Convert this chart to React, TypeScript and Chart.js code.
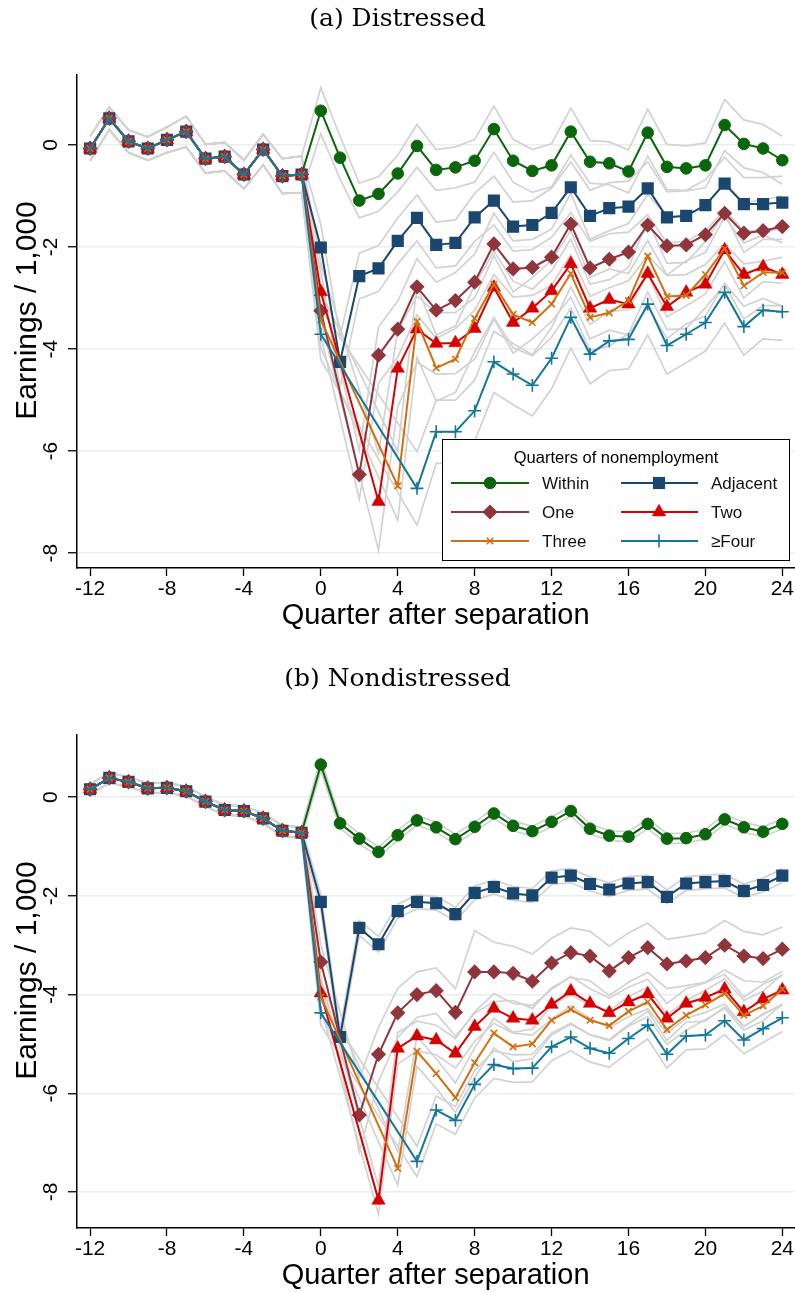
import React, { useEffect, useRef } from "react";
import { Chart, registerables } from "chart.js";
import { drawPoint } from "chart.js/helpers";

Chart.register(...registerables);

// ---------------- data ----------------
const quarters = [-12, -11, -10, -9, -8, -7, -6, -5, -4, -3, -2, -1, 0, 1, 2, 3, 4, 5, 6, 7, 8, 9, 10, 11, 12, 13, 14, 15, 16, 17, 18, 19, 20, 21, 22, 23, 24];
const xTickValues = [-12, -8, -4, 0, 4, 8, 12, 16, 20, 24];
const yTickValues = [0, -2, -4, -6, -8];

const seriesNames = ["Within", "Adjacent", "One", "Two", "Three", "≥Four"];
const seriesColors = ["#0a660a", "#1a476f", "#90353b", "#d60000", "#d2700f", "#12769d"];

// Panel (a) Distressed: quarters -12..-1 shared by all groups
const preA = [-0.07, 0.52, 0.07, -0.07, 0.1, 0.26, -0.27, -0.23, -0.58, -0.09, -0.61, -0.58];
const preHwA = [0.24, 0.22, 0.22, 0.23, 0.25, 0.3, 0.28, 0.28, 0.28, 0.3, 0.34, 0.36];
// quarters 0..24
const withinA = [0.67, -0.25, -1.09, -0.96, -0.56, -0.02, -0.49, -0.44, -0.31, 0.31, -0.31, -0.51, -0.4, 0.26, -0.33, -0.36, -0.52, 0.24, -0.43, -0.46, -0.4, 0.39, 0.02, -0.07, -0.3];
const adjacentA = [-2.01, -4.25, -2.57, -2.42, -1.88, -1.43, -1.96, -1.92, -1.42, -1.09, -1.6, -1.57, -1.33, -0.83, -1.39, -1.24, -1.21, -0.85, -1.42, -1.39, -1.18, -0.76, -1.16, -1.16, -1.13];
const oneA = [-3.25, null, -6.46, -4.12, -3.61, -2.78, -3.24, -3.05, -2.69, -1.94, -2.43, -2.4, -2.2, -1.55, -2.41, -2.24, -2.1, -1.57, -1.98, -1.96, -1.76, -1.34, -1.73, -1.68, -1.6];
const twoA = [-2.88, null, null, -6.99, -4.38, -3.61, -3.89, -3.88, -3.6, -2.79, -3.48, -3.2, -2.86, -2.33, -3.2, -3.03, -3.12, -2.52, -3.17, -2.89, -2.73, -2.06, -2.54, -2.39, -2.54];
const threeA = [-3.43, null, null, null, -6.68, -3.46, -4.37, -4.2, -3.4, -2.73, -3.32, -3.48, -3.12, -2.52, -3.38, -3.29, -3.05, -2.18, -2.97, -2.95, -2.54, -2.03, -2.76, -2.5, -2.5];
const fourA = [-3.71, null, null, null, null, -6.73, -5.62, -5.62, -5.21, -4.25, -4.49, -4.71, -4.18, -3.38, -4.1, -3.84, -3.81, -3.12, -3.93, -3.71, -3.48, -2.89, -3.56, -3.24, -3.27];
// confidence-band half widths, quarters 0..24
const withinHwA = [0.45, 0.42, 0.34, 0.34, 0.36, 0.42, 0.4, 0.4, 0.42, 0.45, 0.42, 0.42, 0.42, 0.46, 0.42, 0.42, 0.42, 0.46, 0.44, 0.44, 0.44, 0.5, 0.47, 0.47, 0.47];
const adjacentHwA = [0.45, 0.5, 0.45, 0.45, 0.45, 0.45, 0.45, 0.45, 0.47, 0.48, 0.48, 0.48, 0.48, 0.5, 0.5, 0.5, 0.5, 0.52, 0.5, 0.5, 0.5, 0.52, 0.52, 0.52, 0.52];
const oneHwA = [0.5, null, 0.48, 0.55, 0.55, 0.55, 0.55, 0.55, 0.55, 0.6, 0.55, 0.55, 0.55, 0.6, 0.56, 0.56, 0.56, 0.6, 0.58, 0.58, 0.58, 0.6, 0.6, 0.6, 0.6];
const twoHwA = [0.55, null, null, 0.95, 0.75, 0.65, 0.6, 0.6, 0.6, 0.62, 0.6, 0.6, 0.6, 0.65, 0.6, 0.6, 0.6, 0.65, 0.62, 0.62, 0.62, 0.65, 0.62, 0.62, 0.62];
const threeHwA = [0.55, null, null, null, 0.67, 0.7, 0.65, 0.65, 0.65, 0.65, 0.65, 0.65, 0.65, 0.68, 0.65, 0.65, 0.65, 0.7, 0.65, 0.65, 0.65, 0.7, 0.65, 0.65, 0.65];
const fourHwA = [0.5, null, null, null, null, 0.72, 0.62, 0.62, 0.6, 0.6, 0.6, 0.6, 0.6, 0.6, 0.58, 0.58, 0.58, 0.6, 0.56, 0.56, 0.56, 0.6, 0.56, 0.56, 0.56];

// Panel (b) Nondistressed
const preB = [0.16, 0.39, 0.31, 0.18, 0.19, 0.12, -0.09, -0.26, -0.28, -0.43, -0.68, -0.72];
const preHwB = [0.1, 0.1, 0.1, 0.1, 0.1, 0.1, 0.1, 0.1, 0.1, 0.1, 0.11, 0.11];
const withinB = [0.66, -0.53, -0.84, -1.11, -0.77, -0.47, -0.61, -0.85, -0.6, -0.33, -0.58, -0.69, -0.5, -0.28, -0.64, -0.78, -0.8, -0.54, -0.84, -0.83, -0.75, -0.45, -0.61, -0.7, -0.54];
const adjacentB = [-2.12, -4.86, -2.65, -2.98, -2.31, -2.12, -2.15, -2.37, -1.94, -1.82, -1.95, -1.99, -1.63, -1.59, -1.76, -1.87, -1.75, -1.72, -2.02, -1.75, -1.72, -1.7, -1.9, -1.78, -1.59];
const oneB = [-3.34, null, -6.44, -5.21, -4.37, -4.0, -3.92, -4.36, -3.54, -3.54, -3.57, -3.73, -3.36, -3.15, -3.22, -3.52, -3.25, -3.05, -3.38, -3.32, -3.25, -3.0, -3.22, -3.27, -3.08];
const twoB = [-3.97, null, null, -8.17, -5.09, -4.84, -4.92, -5.19, -4.65, -4.28, -4.48, -4.52, -4.2, -3.93, -4.18, -4.37, -4.15, -3.99, -4.48, -4.18, -4.06, -3.89, -4.35, -4.09, -3.91];
const threeB = [-4.05, null, null, null, -7.52, -5.15, -5.6, -6.09, -5.38, -4.78, -5.06, -5.0, -4.52, -4.3, -4.52, -4.63, -4.34, -4.15, -4.71, -4.42, -4.21, -3.98, -4.42, -4.23, -3.89];
const fourB = [-4.37, null, null, null, null, -7.38, -6.34, -6.55, -5.82, -5.42, -5.5, -5.49, -5.06, -4.86, -5.09, -5.19, -4.89, -4.62, -5.21, -4.84, -4.82, -4.53, -4.92, -4.69, -4.47];
const withinHwB = [0.12, 0.1, 0.1, 0.1, 0.1, 0.1, 0.1, 0.1, 0.1, 0.1, 0.1, 0.1, 0.1, 0.1, 0.1, 0.1, 0.1, 0.1, 0.1, 0.1, 0.1, 0.1, 0.1, 0.1, 0.1];
const adjacentHwB = [0.15, 0.15, 0.15, 0.16, 0.14, 0.14, 0.14, 0.14, 0.14, 0.14, 0.14, 0.14, 0.14, 0.14, 0.14, 0.14, 0.14, 0.14, 0.14, 0.14, 0.14, 0.14, 0.14, 0.14, 0.14];
const oneHwB = [0.35, null, 0.75, 0.55, 0.5, 0.46, 0.46, 0.48, 0.84, 0.6, 0.55, 0.55, 0.5, 0.5, 0.5, 0.5, 0.5, 0.5, 0.5, 0.5, 0.5, 0.5, 0.5, 0.48, 0.45];
const twoHwB = [0.3, null, null, 0.28, 0.32, 0.3, 0.3, 0.3, 0.3, 0.3, 0.3, 0.3, 0.3, 0.3, 0.3, 0.3, 0.3, 0.3, 0.3, 0.3, 0.3, 0.3, 0.3, 0.3, 0.3];
const threeHwB = [0.3, null, null, null, 0.34, 0.3, 0.3, 0.3, 0.3, 0.3, 0.3, 0.3, 0.3, 0.3, 0.3, 0.3, 0.3, 0.3, 0.3, 0.3, 0.3, 0.3, 0.3, 0.3, 0.3];
const fourHwB = [0.25, null, null, null, null, 0.31, 0.28, 0.28, 0.28, 0.28, 0.28, 0.28, 0.28, 0.28, 0.28, 0.28, 0.28, 0.28, 0.28, 0.28, 0.28, 0.28, 0.28, 0.28, 0.28];

// ---------------- styles ----------------
const SANS = "'Liberation Sans', Arial, Helvetica, sans-serif";
const SERIF = "'DejaVu Serif', 'Liberation Serif', serif";
const GREY = "#d2d2d2";

const markerStyles = [
  { pointStyle: "circle", radius: 5.8, borderWidth: 1 },
  { pointStyle: "rect", radius: 8.6, borderWidth: 0 },
  { pointStyle: "rectRot", radius: 7.6, borderWidth: 0 },
  { pointStyle: "triangle", radius: 7.8, borderWidth: 0.5 },
  { pointStyle: "crossRot", radius: 4.6, borderWidth: 1.6 },
  { pointStyle: "cross", radius: 6.4, borderWidth: 1.6 },
];

type PanelProps = {
  title: string;
  top: number;
  height: number;
  titleTop: number;
  padTop: number;
  padBottom: number;
  yMin: number;
  yMax: number;
  pre: number[];
  preHw: number[];
  post: (number | null)[][];
  postHw: (number | null)[][];
  legend: boolean;
};

const yLabelPlugin = {
  id: "yLabels",
  afterDraw(chart: any) {
    const ctx = chart.ctx;
    const ys = chart.scales.y;
    const area = chart.chartArea;
    ctx.save();
    ctx.fillStyle = "#000";
    ctx.font = `21px ${SANS}`;
    ctx.textAlign = "center";
    ctx.textBaseline = "middle";
    yTickValues.forEach((v) => {
      const py = ys.getPixelForValue(v);
      ctx.save();
      ctx.translate(51, py);
      ctx.rotate(-Math.PI / 2);
      ctx.fillText(String(v), 0, 0);
      ctx.restore();
    });
    // axis title
    ctx.font = `30px ${SANS}`;
    ctx.save();
    ctx.translate(28, (area.top + area.bottom) / 2 - 11);
    ctx.rotate(-Math.PI / 2);
    ctx.fillText("Earnings / 1,000", 0, 0);
    ctx.restore();
    ctx.restore();
  },
};

const legendPlugin = {
  id: "boxLegend",
  afterDraw(chart: any, _args: any, opts: any) {
    if (!opts || !opts.show) return;
    const ctx = chart.ctx;
    const x0 = 442.5, y0 = 439.5, w = 347, h = 121;
    ctx.save();
    ctx.fillStyle = "#fff";
    ctx.fillRect(x0, y0, w, h);
    ctx.strokeStyle = "#000";
    ctx.lineWidth = 1;
    ctx.strokeRect(x0, y0, w, h);
    ctx.fillStyle = "#000";
    ctx.font = `16.5px ${SANS}`;
    ctx.textAlign = "center";
    ctx.textBaseline = "middle";
    ctx.fillText("Quarters of nonemployment", x0 + w / 2, 458);
    const rows = [483, 512, 541];
    const cols = [{ l: 451, r: 529, m: 490, t: 542 }, { l: 621, r: 698, m: 659, t: 711 }];
    for (let i = 0; i < 6; i++) {
      const row = rows[Math.floor(i / 2)];
      const c = cols[i % 2];
      ctx.strokeStyle = seriesColors[i];
      ctx.lineWidth = 2;
      ctx.beginPath();
      ctx.moveTo(c.l, row);
      ctx.lineTo(c.r, row);
      ctx.stroke();
      ctx.fillStyle = seriesColors[i];
      ctx.strokeStyle = seriesColors[i];
      const ms = markerStyles[i];
      ctx.lineWidth = ms.borderWidth || 1;
      drawPoint(ctx, { pointStyle: ms.pointStyle, rotation: 0, radius: ms.radius, borderWidth: ms.borderWidth } as any, c.m, row);
      ctx.fillStyle = "#111";
      ctx.font = `17px ${SANS}`;
      ctx.textAlign = "left";
      ctx.fillText(seriesNames[i], c.t, row + 1);
    }
    ctx.restore();
  },
};

function Panel(p: PanelProps) {
  const ref = useRef<HTMLCanvasElement | null>(null);
  useEffect(() => {
    if (!ref.current) return;
    const datasets: any[] = [];
    for (let s = 0; s < 6; s++) {
      const vals = [...p.pre, ...p.post[s]];
      const hws = [...p.preHw, ...p.postHw[s]];
      const lo = quarters.map((q, i) => ({ x: q, y: vals[i] == null || hws[i] == null ? null : (vals[i] as number) - (hws[i] as number) }));
      const hi = quarters.map((q, i) => ({ x: q, y: vals[i] == null || hws[i] == null ? null : (vals[i] as number) + (hws[i] as number) }));
      [lo, hi].forEach((d) =>
        datasets.push({
          data: d,
          borderColor: GREY,
          borderWidth: 1.7,
          pointRadius: 0,
          spanGaps: true,
          order: 20,
        })
      );
    }
    for (let s = 0; s < 6; s++) {
      const vals = [...p.pre, ...p.post[s]];
      const ms = markerStyles[s];
      datasets.push({
        label: seriesNames[s],
        data: quarters.map((q, i) => ({ x: q, y: vals[i] })),
        borderColor: seriesColors[s],
        backgroundColor: seriesColors[s],
        borderWidth: 2,
        pointStyle: ms.pointStyle,
        pointRadius: ms.radius,
        pointBorderWidth: ms.borderWidth,
        pointBorderColor: seriesColors[s],
        pointBackgroundColor: seriesColors[s],
        spanGaps: true,
        order: 10 - s,
      });
    }
    const chart = new Chart(ref.current, {
      type: "line",
      data: { datasets },
      options: {
        animation: false,
        responsive: false,
        devicePixelRatio: 1,
        events: [],
        layout: { autoPadding: false, padding: { top: p.padTop, left: 14, right: 0, bottom: p.padBottom } } as any,
        plugins: {
          legend: { display: false },
          tooltip: { enabled: false },
          boxLegend: { show: p.legend },
        } as any,
        scales: {
          x: {
            type: "linear",
            min: -12.68,
            max: 24.62,
            afterBuildTicks: (scale: any) => {
              scale.ticks = xTickValues.map((v) => ({ value: v }));
            },
            afterFit: (scale: any) => {
              scale.height = 65;
            },
            grid: { drawOnChartArea: false, drawTicks: true, tickLength: 8, tickColor: "#000", tickWidth: 1.3 },
            border: { display: true, color: "#000", width: 1.5 },
            ticks: {
              color: "#000",
              font: { family: SANS, size: 21 },
              padding: 1,
              maxRotation: 0,
              minRotation: 0,
              autoSkip: false,
              callback: (v: any) => String(v),
            },
            title: {
              display: true,
              text: "Quarter after separation",
              color: "#000",
              font: { family: SANS, size: 29 },
              padding: { top: 0, bottom: 0 },
            },
          },
          y: {
            type: "linear",
            min: p.yMin,
            max: p.yMax,
            afterBuildTicks: (scale: any) => {
              scale.ticks = yTickValues.map((v) => ({ value: v }));
            },
            afterFit: (scale: any) => {
              scale.width = 63;
            },
            grid: { drawOnChartArea: true, color: "#e8eff1", lineWidth: 1.5, drawTicks: true, tickLength: 9, tickColor: "#000", tickWidth: 1.3 },
            border: { display: true, color: "#000", width: 1.5 },
            ticks: { display: false },
            title: { display: false },
          },
        },
      } as any,
      plugins: [yLabelPlugin, legendPlugin],
    });
    return () => chart.destroy();
  }, []);
  return (
    <div style={{ position: "absolute", left: 0, top: p.top, width: 795, height: p.height }}>
      <canvas ref={ref} width={795} height={p.height} style={{ display: "block", width: 795, height: p.height }} />
      <div
        style={{
          position: "absolute",
          left: 0,
          width: 795,
          top: p.titleTop,
          textAlign: "center",
          fontFamily: SERIF,
          fontSize: 25,
          lineHeight: "30px",
          color: "#000",
        }}
      >
        {p.title}
      </div>
    </div>
  );
}

export default function App() {
  return (
    <div style={{ position: "absolute", left: 0, top: 0, width: 795, height: 1293, background: "#fff", overflow: "hidden" }}>
      <Panel
        title="(a) Distressed"
        top={0}
        height={645}
        titleTop={3}
        padTop={75}
        padBottom={12}
        yMin={-8.29}
        yMax={1.37}
        pre={preA}
        preHw={preHwA}
        post={[withinA, adjacentA, oneA, twoA, threeA, fourA]}
        postHw={[withinHwA, adjacentHwA, oneHwA, twoHwA, threeHwA, fourHwA]}
        legend={true}
      />
      <Panel
        title="(b) Nondistressed"
        top={648}
        height={645}
        titleTop={15}
        padTop={87}
        padBottom={0}
        yMin={-8.73}
        yMax={1.26}
        pre={preB}
        preHw={preHwB}
        post={[withinB, adjacentB, oneB, twoB, threeB, fourB]}
        postHw={[withinHwB, adjacentHwB, oneHwB, twoHwB, threeHwB, fourHwB]}
        legend={false}
      />
    </div>
  );
}
